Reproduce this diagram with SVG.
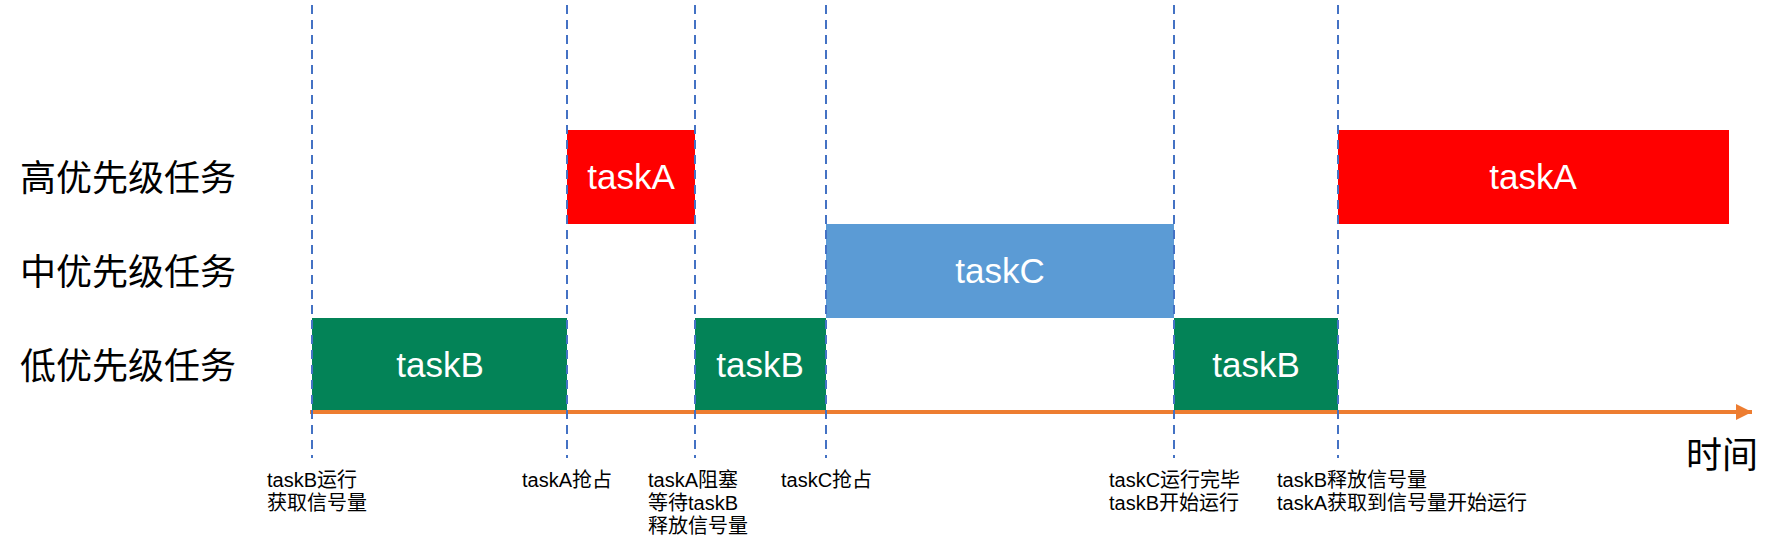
<svg xmlns="http://www.w3.org/2000/svg" width="1786" height="553" viewBox="0 0 1786 553">
<style>
.lbl{font-family:"Liberation Sans","Noto Sans CJK SC",sans-serif;font-size:36px;fill:#000}
.task{font-family:"Liberation Sans","Noto Sans CJK SC",sans-serif;font-size:35px;fill:#fff;text-anchor:middle}
.note{font-family:"Liberation Sans","Noto Sans CJK SC",sans-serif;font-size:20px;fill:#000}
.dash{stroke:#4472C4;stroke-width:2;stroke-dasharray:9 6;fill:none}
.red{fill:#FF0000}.green{fill:#038357}.blue{fill:#5B9BD5}
</style>
<defs>
<marker id="arr" viewBox="0 0 10 10" refX="10" refY="5" markerWidth="4" markerHeight="4" orient="auto" markerUnits="strokeWidth">
<path d="M0,0 L10,5 L0,10 z" fill="#ED7D31"/>
</marker>
</defs>
<g id="row-labels">
<text class="lbl" x="20" y="191">高优先级任务</text>
<text class="lbl" x="20" y="285">中优先级任务</text>
<text class="lbl" x="20" y="379">低优先级任务</text>
</g>
<g id="taskB1"><rect class="green" x="312" y="318" width="255" height="94"/><text class="task" x="440" y="377">taskB</text></g>
<g id="taskA1"><rect class="red" x="567" y="130" width="128" height="94"/><text class="task" x="631" y="189">taskA</text></g>
<g id="taskB2"><rect class="green" x="695" y="318" width="131" height="94"/><text class="task" x="760" y="377">taskB</text></g>
<g id="taskC"><rect class="blue" x="826" y="224" width="348" height="94"/><text class="task" x="1000" y="283">taskC</text></g>
<g id="taskB3"><rect class="green" x="1174" y="318" width="164" height="94"/><text class="task" x="1256" y="377">taskB</text></g>
<g id="taskA2"><rect class="red" x="1338" y="130" width="391" height="94"/><text class="task" x="1533" y="189">taskA</text></g>
<g id="connectors">
<line x1="310" y1="412" x2="1752" y2="412" stroke="#ED7D31" stroke-width="4" marker-end="url(#arr)"/>
<line class="dash" x1="312" y1="5" x2="312" y2="458"/>
<line class="dash" x1="567" y1="5" x2="567" y2="458"/>
<line class="dash" x1="695" y1="5" x2="695" y2="458"/>
<line class="dash" x1="826" y1="5" x2="826" y2="458"/>
<line class="dash" x1="1174" y1="5" x2="1174" y2="458"/>
<line class="dash" x1="1338" y1="5" x2="1338" y2="458"/>
</g>
<g id="axis-label"><text class="lbl" x="1686" y="468">时间</text></g>
<g id="notes">
<text class="note" x="267" y="487">taskB运行</text>
<text class="note" x="267" y="510">获取信号量</text>
<text class="note" x="522" y="487">taskA抢占</text>
<text class="note" x="648" y="487">taskA阻塞</text>
<text class="note" x="648" y="510">等待taskB</text>
<text class="note" x="648" y="533">释放信号量</text>
<text class="note" x="781" y="487">taskC抢占</text>
<text class="note" x="1109" y="487">taskC运行完毕</text>
<text class="note" x="1109" y="510">taskB开始运行</text>
<text class="note" x="1277" y="487">taskB释放信号量</text>
<text class="note" x="1277" y="510">taskA获取到信号量开始运行</text>
</g>
</svg>
